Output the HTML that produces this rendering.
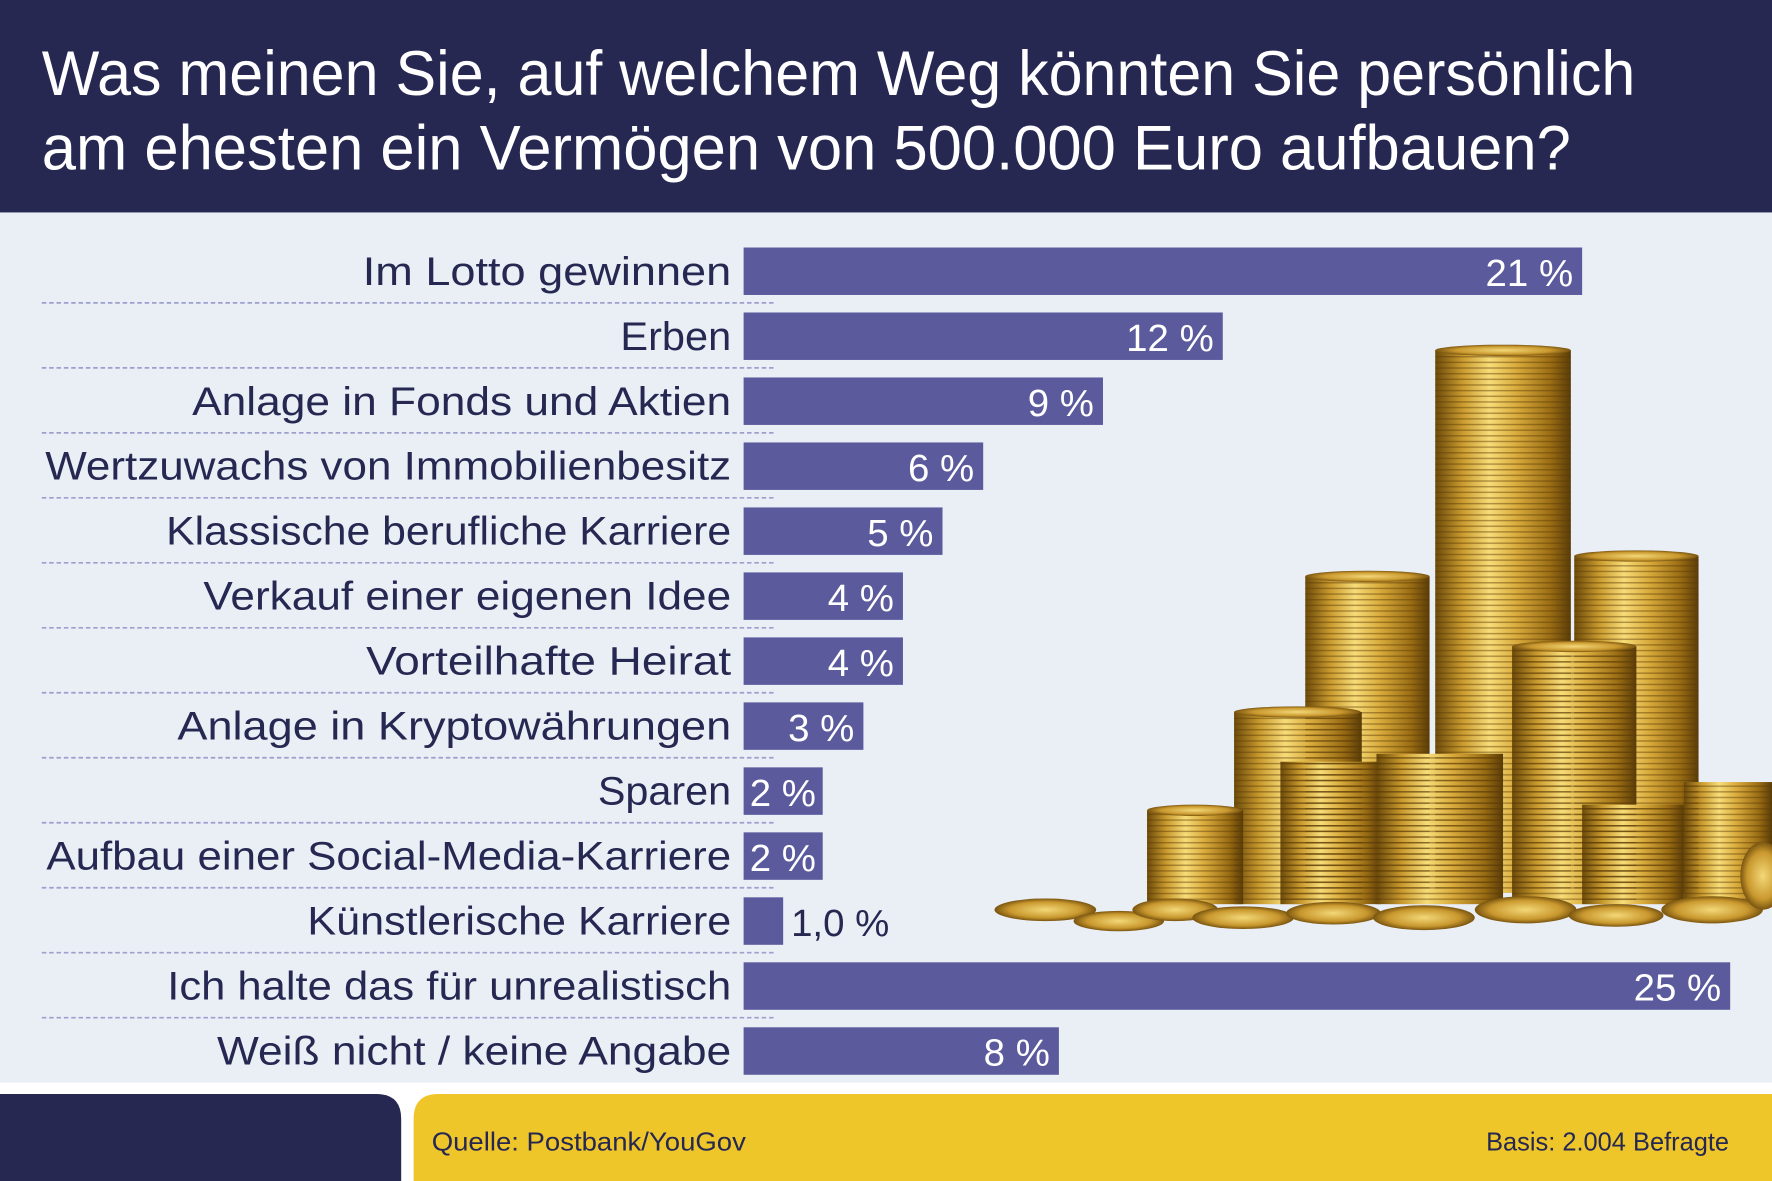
<!DOCTYPE html>
<html><head><meta charset="utf-8">
<style>html,body{margin:0;padding:0;background:#fff}svg{display:block}</style>
</head><body>
<svg width="1772" height="1181" viewBox="0 0 1568 1045" preserveAspectRatio="none" xmlns="http://www.w3.org/2000/svg" font-family="Liberation Sans, sans-serif">
<defs>
<linearGradient id="g" x1="0" x2="1" y1="0" y2="0">
<stop offset="0" stop-color="#6b4a0a"/><stop offset="0.2" stop-color="#c99a2e"/><stop offset="0.4" stop-color="#f7dc78"/><stop offset="0.6" stop-color="#d9ab3c"/><stop offset="0.85" stop-color="#9a6d14"/><stop offset="1" stop-color="#5a3c08"/>
</linearGradient>
<pattern id="st" width="10" height="5" patternUnits="userSpaceOnUse"><rect width="10" height="1.3" fill="#5a3a05" opacity="0.45"/></pattern>
<radialGradient id="cg"><stop offset="0" stop-color="#f3d878"/><stop offset="0.7" stop-color="#c9982e"/><stop offset="1" stop-color="#7a5510"/></radialGradient>
</defs>
<rect width="1568" height="1045" fill="#fff"/>
<rect width="1568" height="188" fill="#262852"/>
<text x="37" y="84" fill="#fff" font-size="56" textLength="1410" lengthAdjust="spacingAndGlyphs">Was meinen Sie, auf welchem Weg könnten Sie persönlich</text>
<text x="37" y="150" fill="#fff" font-size="56" textLength="1353" lengthAdjust="spacingAndGlyphs">am ehesten ein Vermögen von 500.000 Euro aufbauen?</text>
<rect y="188" width="1568" height="770" fill="#eaeef5"/>

<!-- coins -->
<g>
<g id="stacks">
<rect x="1270" y="310" width="120" height="480" fill="url(#g)"/>
<rect x="1155" y="510" width="110" height="280" fill="url(#g)"/>
<rect x="1393" y="492" width="110" height="298" fill="url(#g)"/>
<rect x="1092" y="630" width="113" height="170" fill="url(#g)"/>
<rect x="1338" y="572" width="110" height="228" fill="url(#g)"/>
<rect x="1015" y="717" width="85" height="83" fill="url(#g)"/>
<rect x="1133" y="674" width="89" height="126" fill="url(#g)"/>
<rect x="1218" y="667" width="112" height="133" fill="url(#g)"/>
<rect x="1400" y="712" width="90" height="88" fill="url(#g)"/>
<rect x="1490" y="692" width="78" height="108" fill="url(#g)"/>
</g>
<g fill="url(#st)">
<rect x="1270" y="310" width="120" height="480"/><rect x="1155" y="510" width="110" height="280"/><rect x="1393" y="492" width="110" height="298"/><rect x="1092" y="630" width="113" height="170"/><rect x="1338" y="572" width="110" height="228"/><rect x="1015" y="717" width="85" height="83"/><rect x="1133" y="674" width="89" height="126"/><rect x="1218" y="667" width="112" height="133"/><rect x="1400" y="712" width="90" height="88"/><rect x="1490" y="692" width="78" height="108"/>
</g>
<g fill="url(#cg)">
<ellipse cx="1330" cy="310" rx="60" ry="5"/><ellipse cx="1210" cy="510" rx="55" ry="5"/><ellipse cx="1448" cy="492" rx="55" ry="5"/>
<ellipse cx="1148" cy="630" rx="56" ry="5"/><ellipse cx="1393" cy="572" rx="55" ry="5"/><ellipse cx="1057" cy="717" rx="42" ry="5"/>
<ellipse cx="925" cy="805" rx="45" ry="10"/><ellipse cx="990" cy="815" rx="40" ry="9"/><ellipse cx="1040" cy="805" rx="38" ry="10"/>
<ellipse cx="1100" cy="812" rx="45" ry="10"/><ellipse cx="1180" cy="808" rx="42" ry="10"/><ellipse cx="1260" cy="812" rx="45" ry="11"/>
<ellipse cx="1350" cy="805" rx="45" ry="12"/><ellipse cx="1430" cy="810" rx="42" ry="10"/><ellipse cx="1515" cy="805" rx="45" ry="12"/><ellipse cx="1560" cy="775" rx="20" ry="30"/>
</g>
</g>

<g stroke="#9d9fcf" stroke-width="1.5" stroke-dasharray="4,2.5">
<line x1="37" x2="685" y1="268" y2="268"/><line x1="37" x2="685" y1="325.5" y2="325.5"/><line x1="37" x2="685" y1="383" y2="383"/><line x1="37" x2="685" y1="440.5" y2="440.5"/><line x1="37" x2="685" y1="498" y2="498"/><line x1="37" x2="685" y1="555.5" y2="555.5"/><line x1="37" x2="685" y1="613" y2="613"/><line x1="37" x2="685" y1="670.5" y2="670.5"/><line x1="37" x2="685" y1="728" y2="728"/><line x1="37" x2="685" y1="785.5" y2="785.5"/><line x1="37" x2="685" y1="843" y2="843"/><line x1="37" x2="685" y1="900.5" y2="900.5"/>
</g>

<g fill="#5b5a9d">
<rect x="658" y="219" width="742" height="42"/>
<rect x="658" y="276.5" width="424" height="42"/>
<rect x="658" y="334" width="318" height="42"/>
<rect x="658" y="391.5" width="212" height="42"/>
<rect x="658" y="449" width="176" height="42"/>
<rect x="658" y="506.5" width="141" height="42"/>
<rect x="658" y="564" width="141" height="42"/>
<rect x="658" y="621.5" width="106" height="42"/>
<rect x="658" y="679" width="70" height="42"/>
<rect x="658" y="736.5" width="70" height="42"/>
<rect x="658" y="794" width="35" height="42"/>
<rect x="658" y="851.5" width="873" height="42"/>
<rect x="658" y="909" width="279" height="42"/>
</g>

<g fill="#262852" font-size="35" text-anchor="end" lengthAdjust="spacingAndGlyphs">
<text x="647" y="252" textLength="326" lengthAdjust="spacingAndGlyphs">Im Lotto gewinnen</text>
<text x="647" y="309.5" textLength="98" lengthAdjust="spacingAndGlyphs">Erben</text>
<text x="647" y="367" textLength="477" lengthAdjust="spacingAndGlyphs">Anlage in Fonds und Aktien</text>
<text x="647" y="424.5" textLength="607" lengthAdjust="spacingAndGlyphs">Wertzuwachs von Immobilienbesitz</text>
<text x="647" y="482" textLength="500" lengthAdjust="spacingAndGlyphs">Klassische berufliche Karriere</text>
<text x="647" y="539.5" textLength="467" lengthAdjust="spacingAndGlyphs">Verkauf einer eigenen Idee</text>
<text x="647" y="597" textLength="323" lengthAdjust="spacingAndGlyphs">Vorteilhafte Heirat</text>
<text x="647" y="654.5" textLength="490" lengthAdjust="spacingAndGlyphs">Anlage in Kryptowährungen</text>
<text x="647" y="712" textLength="118" lengthAdjust="spacingAndGlyphs">Sparen</text>
<text x="647" y="769.5" textLength="606" lengthAdjust="spacingAndGlyphs">Aufbau einer Social-Media-Karriere</text>
<text x="647" y="827" textLength="375" lengthAdjust="spacingAndGlyphs">Künstlerische Karriere</text>
<text x="647" y="884.5" textLength="499" lengthAdjust="spacingAndGlyphs">Ich halte das für unrealistisch</text>
<text x="647" y="942" textLength="455" lengthAdjust="spacingAndGlyphs">Weiß nicht / keine Angabe</text>
</g>

<g fill="#fff" font-size="34" text-anchor="end">
<text x="1392" y="253">21 %</text>
<text x="1074" y="310.5">12 %</text>
<text x="968" y="368">9 %</text>
<text x="862" y="425.5">6 %</text>
<text x="826" y="483">5 %</text>
<text x="791" y="540.5">4 %</text>
<text x="791" y="598">4 %</text>
<text x="756" y="655.5">3 %</text>
<text x="722" y="713">2 %</text>
<text x="722" y="770.5">2 %</text>
<text x="1523" y="885.5">25 %</text>
<text x="929" y="943">8 %</text>
</g>
<text x="700" y="828" fill="#262852" font-size="34">1,0 %</text>

<path d="M0 968 H333 Q355 968 355 990 V1045 H0 Z" fill="#262852"/>
<path d="M388 968 H1568 V1045 H366 V990 Q366 968 388 968 Z" fill="#efc62a"/>
<text x="382" y="1018" fill="#262852" font-size="23" textLength="278" lengthAdjust="spacingAndGlyphs">Quelle: Postbank/YouGov</text>
<text x="1530" y="1018" fill="#262852" font-size="23" text-anchor="end" textLength="215" lengthAdjust="spacingAndGlyphs">Basis: 2.004 Befragte</text>
</svg>
</body></html>
